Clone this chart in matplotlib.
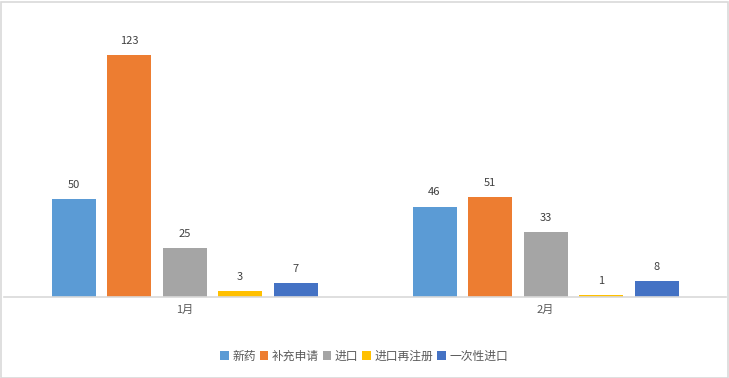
import matplotlib
matplotlib.use("Agg")
import matplotlib.pyplot as plt
from matplotlib.patches import Rectangle
import numpy as np

plt.rcParams['font.family'] = ['Noto Sans CJK SC', 'DejaVu Sans']

categories = ['1月', '2月']
series_names = ['新药', '补充申请', '进口', '进口再注册', '一次性进口']
values = {
    '新药': [50, 46],
    '补充申请': [123, 51],
    '进口': [25, 33],
    '进口再注册': [3, 1],
    '一次性进口': [7, 8],
}
colors = ['#5B9BD5', '#ED7D31', '#A5A5A5', '#FFC000', '#4472C4']

W, H = 729, 378
fig = plt.figure(figsize=(W / 100, H / 100), dpi=100)
ax = fig.add_axes([4 / W, (H - 297) / H, 722 / W, (297 - 21.6) / H])

x = np.arange(len(categories))
step = 55.5 / 361
width = 44 / 361
for i, name in enumerate(series_names):
    pos = x + (i - 2) * step
    bars = ax.bar(pos, values[name], width=width, color=colors[i], label=name, zorder=2)
    for b, v in zip(bars, values[name]):
        ax.annotate(str(v), (b.get_x() + b.get_width() / 2, v), xytext=(0, 6.5),
                    textcoords='offset points', ha='center', va='bottom',
                    fontsize=8, color='#404040')

ax.set_xlim(-0.5, len(categories) - 0.5)
ax.set_ylim(0, 140)
ax.set_yticks([])
ax.set_xticks(x)
ax.set_xticklabels(categories, fontsize=8, color='#595959')
ax.tick_params(axis='x', length=0, pad=6)
for s in ['top', 'right', 'left']:
    ax.spines[s].set_visible(False)
ax.spines['bottom'].set_color('#D9D9D9')
ax.spines['bottom'].set_linewidth(1.2)

leg = fig.legend(loc='center', bbox_to_anchor=(364 / W, (H - 356) / H), ncol=5,
                 frameon=False, fontsize=8.5, handlelength=0.75, handleheight=0.75,
                 handletextpad=0.3, columnspacing=0.3)
for t in leg.get_texts():
    t.set_color('#595959')

fig.patches.append(Rectangle((0.5 / W, 0.5 / H), 1 - 2 / W, 1 - 2 / H, transform=fig.transFigure,
                             fill=False, edgecolor='#D9D9D9', linewidth=1.2))

fig.savefig('out.png', dpi=100)
